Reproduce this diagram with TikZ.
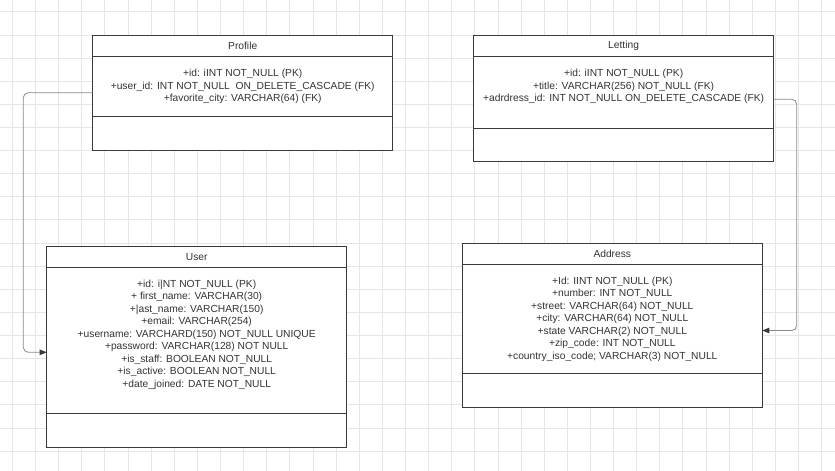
\documentclass[tikz,border=0pt]{standalone}
\usepackage{fontspec}
\setmainfont{Liberation Sans}
\usetikzlibrary{arrows.meta}
\definecolor{gridc}{HTML}{E6E6E6}
\definecolor{boxc}{HTML}{3A3A3A}
\definecolor{txtc}{HTML}{333333}
\definecolor{linkc}{HTML}{8A8A8A}
\newcommand{\attrtext}[2]{\parbox[c][#1][t]{300pt}{\centering\rule{0pt}{20pt}#2}}
\begin{document}
\begin{tikzpicture}[x=1pt,y=-1pt,
  font=\fontsize{10.25}{12.5}\selectfont,
  part/.style={draw=boxc, line width=0.9pt, fill=white, text=txtc,
    minimum width=300pt, inner sep=0pt, outer sep=0pt, anchor=north west},
  hdr/.style={part, minimum height=21.4pt},
  link/.style={draw=linkc, line width=0.8pt, rounded corners=5pt,
    -{Triangle[length=7pt,width=5.5pt,color=boxc]}}
]
% background and grid
\fill[white] (0,0) rectangle (835,471);
\useasboundingbox (0,0) rectangle (835,471);
\foreach \i in {0,...,35} \draw[gridc, line width=0.6pt] ({12.3+23.12*\i},0) -- ++(0,471);
\foreach \i in {0,...,20} \draw[gridc, line width=0.6pt] (0,{11.7+23.12*\i}) -- ++(835,0);

% Profile
\node[hdr] (profile) at (92.7,35.3) {Profile};
\node[part] (profileattr) at (profile.south west)
  {\attrtext{59.3pt}{+id: iINT NOT\_NULL (PK)\\+user\_id: INT NOT\_NULL \ ON\_DELETE\_CASCADE (FK)\\+favorite\_city: VARCHAR(64) (FK)}};
\node[part, minimum height=34pt] (profileops) at (profileattr.south west) {};

% Letting
\node[hdr] (letting) at (473.6,35.3) {Letting};
\node[part] (lettingattr) at (letting.south west)
  {\attrtext{71.6pt}{+id: iINT NOT\_NULL (PK)\\+title: VARCHAR(256) NOT\_NULL (FK)\\+adrdress\_id: INT NOT\_NULL ON\_DELETE\_CASCADE (FK)}};
\node[part, minimum height=33.4pt] (lettingops) at (lettingattr.south west) {};

% User
\node[hdr] (user) at (46.7,246) {User};
\node[part] (userattr) at (user.south west)
  {\attrtext{146pt}{+id: i|NT NOT\_NULL (PK)\\+ first\_name: VARCHAR(30)\\+|ast\_name: VARCHAR(150)\\+email: VARCHAR(254)\\+username: VARCHARD(150) NOT\_NULL UNIQUE\\+password: VARCHAR(128) NOT NULL\\+is\_staff: BOOLEAN NOT\_NULL\\+is\_active: BOOLEAN NOT\_NULL\\+date\_joined: DATE NOT\_NULL}};
\node[part, minimum height=34pt] (userops) at (userattr.south west) {};

% Address
\node[hdr, minimum height=21pt] (address) at (462.3,243.3) {Address};
\node[part] (addressattr) at (address.south west)
  {\attrtext{108.7pt}{+Id: IINT NOT\_NULL (PK)\\+number: INT NOT\_NULL\\+street: VARCHAR(64) NOT\_NULL\\+city: VARCHAR(64) NOT\_NULL\\+state VARCHAR(2) NOT\_NULL\\+zip\_code: INT NOT\_NULL\\+country\_iso\_code; VARCHAR(3) NOT\_NULL}};
\node[part, minimum height=34pt] (addressops) at (addressattr.south west) {};

% connector anchors
\coordinate (p1) at (profileattr.west |- 0,92.7);
\coordinate (u1) at (userattr.west |- 0,352.3);
\coordinate (l1) at (lettingattr.east |- 0,99.3);
\coordinate (a1) at (addressattr.east |- 0,330.5);

\draw[link] (p1) -- (23.3,92.7) -- (23.3,352.3) -- (u1);
\draw[link] (l1) -- (796.7,99.3) -- (796.7,330.5) -- (a1);
\end{tikzpicture}
\end{document}
